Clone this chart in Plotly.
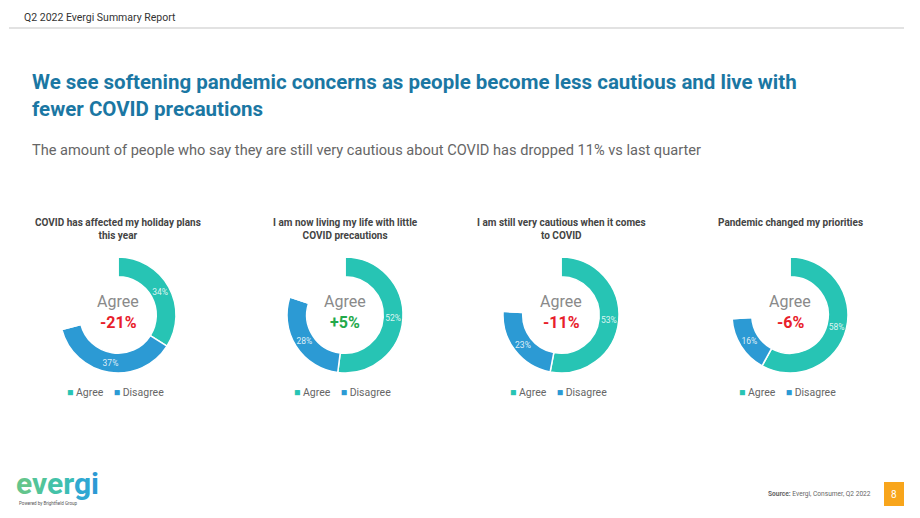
import plotly.graph_objects as go

W, H = 920, 518

# ---- data ----
chart_titles = [
    "COVID has affected my holiday plans<br>this year",
    "I am now living my life with little<br>COVID precautions",
    "I am still very cautious when it comes<br>to COVID",
    "Pandemic changed my priorities",
]
categories = ["Agree", "Disagree"]
agree = [34, 52, 53, 58]
disagree = [37, 28, 23, 16]
change_vs_last_q = [-21, 5, -11, -6]

TEAL = "#27C4B4"
BLUE = "#2C9AD4"
RED = "#E8202A"
GREEN = "#23A94A"
FONT = "Roboto"

centers_x = [118, 345, 561, 790]
center_y = 315
R = 58


def px(x):
    return x / W


def py(y):
    return 1 - y / H


fig = go.Figure()
annotations = []

for i in range(4):
    a, d = agree[i], disagree[i]
    rest = 100 - a - d
    cx = centers_x[i]
    fig.add_trace(go.Pie(
        values=[a, d, rest],
        labels=categories + ["Other"],
        sort=False,
        direction="clockwise",
        rotation=0,
        hole=0.66,
        marker=dict(colors=[TEAL, BLUE, "rgba(0,0,0,0)"],
                    line=dict(color="white", width=1.5)),
        text=[f"{a}%", f"{d}%", ""],
        textinfo="text",
        textposition="inside",
        insidetextorientation="horizontal",
        insidetextfont=dict(family=FONT, size=8.5, color="rgba(255,255,255,0.85)"),
        hoverinfo="skip",
        showlegend=False,
        domain=dict(x=[px(cx - R), px(cx + R)], y=[py(center_y + R), py(center_y - R)]),
    ))
    # chart title
    annotations.append(dict(
        x=px(cx), y=py(215), xref="paper", yref="paper", xanchor="center", yanchor="top",
        text=f"<b>{chart_titles[i]}</b>", showarrow=False, align="center",
        font=dict(family=FONT, size=10, color="#444444"),
    ))
    # centre labels
    annotations.append(dict(
        x=px(cx), y=py(301), xref="paper", yref="paper", xanchor="center", yanchor="middle",
        text="Agree", showarrow=False,
        font=dict(family=FONT, size=16, color="#8a8a8a"),
    ))
    ch = change_vs_last_q[i]
    annotations.append(dict(
        x=px(cx), y=py(322), xref="paper", yref="paper", xanchor="center", yanchor="middle",
        text=f"<b>{ch:+d}%</b>", showarrow=False,
        font=dict(family=FONT, size=16, color=GREEN if ch > 0 else RED),
    ))
    # legend
    leg = (f"<span style='color:{TEAL}'>■</span> {categories[0]}    "
           f"<span style='color:{BLUE}'>■</span> {categories[1]}")
    annotations.append(dict(
        x=px(cx - 3), y=py(392), xref="paper", yref="paper", xanchor="center", yanchor="middle",
        text=leg, showarrow=False,
        font=dict(family=FONT, size=10.5, color="#666666"),
    ))

# header
annotations.append(dict(
    x=px(22), y=py(17), xref="paper", yref="paper", xanchor="left", yanchor="middle",
    text="Q2 2022 Evergi Summary Report", showarrow=False,
    font=dict(family=FONT, size=10.5, color="#333333"),
))
# main title
annotations.append(dict(
    x=px(30), y=py(68), xref="paper", yref="paper", xanchor="left", yanchor="top",
    text="<b>We see softening pandemic concerns as people become less cautious and live with<br>fewer COVID precautions</b>",
    showarrow=False, align="left",
    font=dict(family=FONT, size=20.5, color="#1B77A3"),
))
# subtitle
annotations.append(dict(
    x=px(30), y=py(150), xref="paper", yref="paper", xanchor="left", yanchor="middle",
    text="The amount of people who say they are still very cautious about COVID has dropped 11% vs last quarter",
    showarrow=False,
    font=dict(family=FONT, size=14.6, color="#666666"),
))
# logo
annotations.append(dict(
    x=px(14), y=py(483), xref="paper", yref="paper", xanchor="left", yanchor="middle",
    text=("<b><span style='color:#63C58C'>e</span><span style='color:#52C49A'>v</span>"
          "<span style='color:#44C2A8'>e</span><span style='color:#3BBDB5'>r</span>"
          "<span style='color:#2FA8D2'>g</span><span style='color:#2C9AD4'>i</span></b>"),
    showarrow=False,
    font=dict(family=FONT, size=30),
))
annotations.append(dict(
    x=px(17), y=py(503), xref="paper", yref="paper", xanchor="left", yanchor="middle",
    text="Powered by Brightfield Group", showarrow=False,
    font=dict(family=FONT, size=4.5, color="#555555"),
))
# source
annotations.append(dict(
    x=px(873), y=py(494), xref="paper", yref="paper", xanchor="right", yanchor="middle",
    text="<b>Source:</b> Evergi, Consumer, Q2 2022", showarrow=False,
    font=dict(family=FONT, size=6.6, color="#666666"),
))
# page number
annotations.append(dict(
    x=px(894), y=py(494), xref="paper", yref="paper", xanchor="center", yanchor="middle",
    text="8", showarrow=False,
    font=dict(family=FONT, size=10, color="white"),
))

shapes = [
    dict(type="line", xref="paper", yref="paper", x0=px(9), x1=px(904), y0=py(28), y1=py(28),
         line=dict(color="#E2E2E2", width=2)),
    dict(type="rect", xref="paper", yref="paper", x0=px(884), x1=px(904), y0=py(506), y1=py(482),
         fillcolor="#F8A51B", line=dict(width=0)),
]

fig.update_layout(
    width=W, height=H,
    margin=dict(l=0, r=0, t=0, b=0),
    paper_bgcolor="white",
    plot_bgcolor="white",
    annotations=annotations,
    shapes=shapes,
    showlegend=False,
)

fig.write_html("out.html")
